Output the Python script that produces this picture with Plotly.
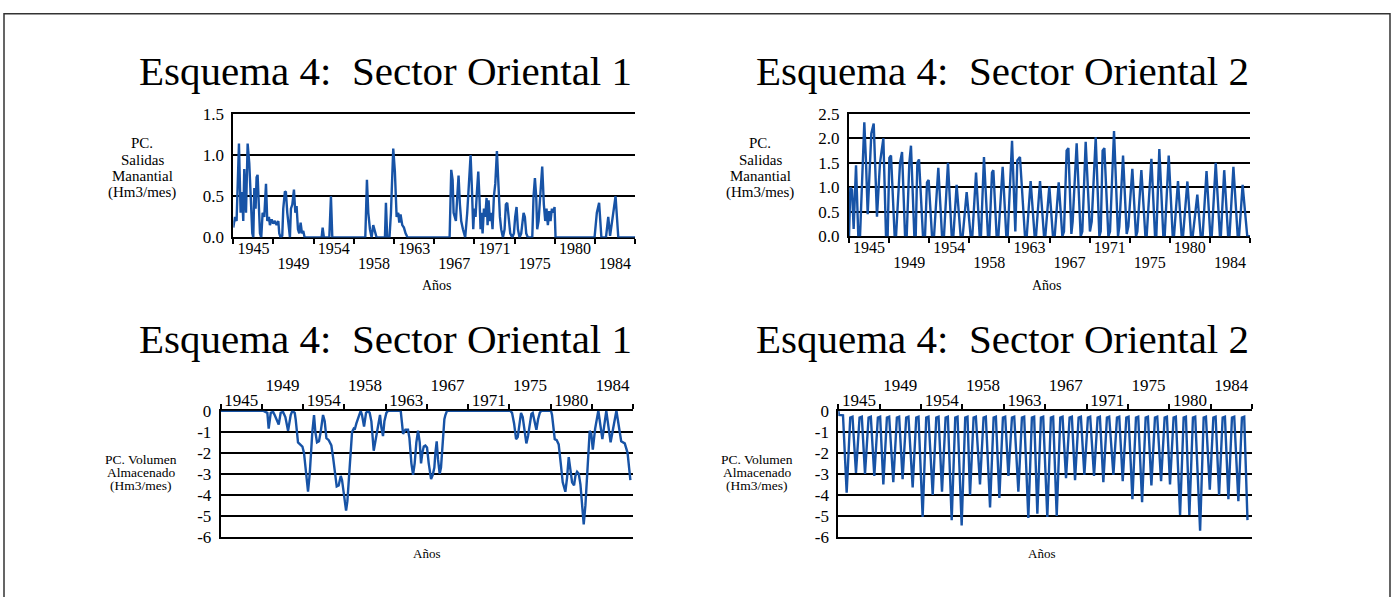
import plotly.graph_objects as go

# ---------------- data (decimal years) ----------------
tl_anio = [1944.75, 1944.93, 1945.11, 1945.37, 1945.55, 1945.70, 1945.84, 1945.95, 1946.14, 1946.32,
           1946.50, 1946.68, 1946.83, 1946.94, 1947.05, 1947.19, 1947.30, 1947.41, 1947.56, 1947.67,
           1947.81, 1947.96, 1948.14, 1948.33, 1948.47, 1948.65, 1948.76, 1948.95, 1949.13, 1949.31,
           1949.49, 1949.68, 1949.78, 1949.93, 1950.11, 1950.22, 1950.40, 1950.51, 1950.66, 1950.84,
           1950.95, 1951.06, 1951.21, 1951.39, 1951.54, 1951.68, 1951.83, 1951.97, 1952.12, 1952.27,
           1952.41, 1952.56, 1954.42, 1954.53, 1954.67, 1955.26, 1955.44, 1955.59, 1959.20, 1959.38,
           1959.53, 1959.71, 1959.89, 1960.07, 1960.18, 1960.33, 1960.44, 1961.35, 1961.46, 1961.60,
           1961.85, 1962.01, 1962.26, 1962.44, 1962.63, 1962.81, 1962.92, 1963.06, 1963.25, 1963.43,
           1963.61, 1963.83, 1968.43, 1968.61, 1968.76, 1968.87, 1968.97, 1969.12, 1969.27, 1969.41,
           1969.56, 1969.70, 1969.89, 1970.00, 1970.14, 1970.36, 1970.54, 1970.73, 1970.87, 1971.02,
           1971.13, 1971.27, 1971.42, 1971.57, 1971.71, 1971.82, 1971.93, 1972.04, 1972.19, 1972.33,
           1972.48, 1972.59, 1972.70, 1972.84, 1972.99, 1973.13, 1973.28, 1973.43, 1973.61, 1973.79,
           1973.94, 1974.08, 1974.27, 1974.45, 1974.59, 1974.74, 1974.89, 1975.07, 1975.29, 1975.47,
           1975.61, 1975.76, 1975.91, 1976.09, 1976.27, 1976.53, 1976.67, 1976.82, 1977.00, 1977.48,
           1977.62, 1977.77, 1977.91, 1978.02, 1978.17, 1978.39, 1978.57, 1978.75, 1978.90, 1979.04,
           1979.19, 1979.34, 1979.48, 1979.63, 1979.77, 1979.92, 1980.03, 1984.30, 1984.55, 1984.80,
           1985.05, 1985.55, 1985.80, 1986.00, 1986.35, 1986.60, 1986.90, 1988.75]
tl_salidas = [0.12, 0.25, 0.20, 1.14, 0.30, 0.55, 0.20, 0.83, 0.30, 1.14,
              0.90, 0.30, 0.05, 0.00, 0.60, 0.35, 0.73, 0.76, 0.20, 0.05,
              0.00, 0.30, 0.25, 0.65, 0.20, 0.25, 0.15, 0.22, 0.17, 0.20,
              0.15, 0.20, 0.05, 0.00, 0.02, 0.35, 0.56, 0.55, 0.30, 0.05,
              0.00, 0.35, 0.40, 0.58, 0.30, 0.38, 0.10, 0.05, 0.18, 0.05,
              0.08, 0.00, 0.00, 0.12, 0.00, 0.00, 0.50, 0.00, 0.00, 0.70,
              0.30, 0.10, 0.00, 0.15, 0.10, 0.02, 0.00, 0.00, 0.42, 0.00,
              0.00, 0.30, 1.08, 0.80, 0.25, 0.30, 0.18, 0.28, 0.15, 0.12,
              0.05, 0.00, 0.00, 0.82, 0.70, 0.30, 0.25, 0.20, 0.50, 0.75,
              0.40, 0.20, 0.10, 0.05, 0.00, 0.30, 0.70, 1.00, 0.60, 0.10,
              0.35, 0.25, 0.55, 0.80, 0.45, 0.10, 0.30, 0.05, 0.35, 0.25,
              0.48, 0.15, 0.45, 0.20, 0.30, 0.10, 0.50, 0.65, 1.05, 0.60,
              0.25, 0.10, 0.00, 0.10, 0.40, 0.42, 0.20, 0.05, 0.00, 0.05,
              0.25, 0.37, 0.10, 0.00, 0.05, 0.30, 0.25, 0.05, 0.00, 0.00,
              0.50, 0.72, 0.50, 0.10, 0.20, 0.60, 0.86, 0.40, 0.20, 0.35,
              0.15, 0.32, 0.20, 0.35, 0.30, 0.37, 0.00, 0.00, 0.30, 0.42,
              0.00, 0.00, 0.25, 0.02, 0.27, 0.50, 0.00, 0.00]

tr_anio = [1944.75, 1944.90, 1945.08, 1945.26, 1945.52, 1945.77, 1945.96, 1946.43, 1946.62, 1946.80,
           1947.20, 1947.46, 1947.82, 1948.15, 1948.52, 1948.81, 1948.99, 1949.18, 1949.36, 1949.76,
           1949.91, 1950.35, 1950.57, 1950.90, 1951.08, 1951.37, 1951.55, 1951.92, 1952.07, 1952.25,
           1952.43, 1952.87, 1953.09, 1953.31, 1953.49, 1953.86, 1954.08, 1954.55, 1954.96, 1955.17,
           1955.61, 1956.02, 1956.20, 1956.56, 1957.00, 1957.22, 1957.66, 1958.10, 1958.28, 1958.69,
           1959.09, 1959.23, 1959.56, 1960.00, 1960.15, 1960.44, 1960.59, 1960.95, 1961.14, 1961.61,
           1962.01, 1962.16, 1962.64, 1963.00, 1963.22, 1963.51, 1964.06, 1964.25, 1964.68, 1965.12,
           1965.27, 1965.71, 1966.15, 1966.29, 1966.73, 1967.13, 1967.32, 1967.76, 1968.16, 1968.34,
           1968.63, 1968.82, 1969.15, 1969.29, 1969.73, 1970.17, 1970.35, 1970.72, 1971.19, 1971.38,
           1971.82, 1972.22, 1972.37, 1972.58, 1972.77, 1973.21, 1973.39, 1973.83, 1974.27, 1974.41,
           1974.82, 1975.22, 1975.40, 1975.84, 1976.24, 1976.39, 1976.83, 1977.27, 1977.41, 1977.93,
           1978.33, 1978.47, 1978.80, 1979.24, 1979.39, 1979.83, 1980.27, 1980.41, 1980.85, 1981.25,
           1981.40, 1981.88, 1982.28, 1982.46, 1982.97, 1983.34, 1983.55, 1983.98, 1984.40, 1984.55,
           1984.99, 1985.45, 1985.55, 1985.92, 1986.35, 1986.50, 1986.93, 1987.40, 1987.55, 1987.94,
           1988.45, 1988.75]
tr_salidas = [0.00, 1.00, 0.95, 0.15, 1.45, 0.00, 0.00, 2.33, 1.50, 0.45,
              2.10, 2.30, 0.40, 1.50, 2.00, 0.00, 0.00, 1.60, 1.65, 0.00,
              0.00, 1.50, 1.72, 0.00, 0.00, 1.50, 1.85, 0.00, 0.00, 1.50,
              1.57, 0.00, 0.00, 1.10, 1.15, 0.00, 0.00, 1.40, 0.00, 0.00,
              1.50, 0.00, 0.00, 1.05, 0.00, 0.00, 0.90, 0.00, 0.00, 1.30,
              0.00, 0.00, 1.62, 0.00, 0.00, 1.30, 1.35, 0.00, 0.00, 1.42,
              0.00, 0.00, 1.95, 0.10, 1.55, 1.62, 0.00, 0.00, 1.13, 0.00,
              0.00, 1.13, 0.00, 0.00, 1.02, 0.00, 0.00, 1.10, 0.00, 0.10,
              1.75, 1.80, 0.05, 0.30, 1.90, 0.00, 0.10, 1.93, 0.10, 0.30,
              2.02, 0.00, 0.10, 1.75, 1.80, 0.00, 0.10, 2.15, 0.00, 0.20,
              1.65, 0.05, 0.20, 1.38, 0.00, 0.10, 1.35, 0.00, 0.00, 1.58,
              0.00, 0.00, 1.78, 0.00, 0.00, 1.65, 0.00, 0.00, 1.13, 0.00,
              0.00, 1.12, 0.00, 0.00, 0.85, 0.00, 0.00, 1.33, 0.00, 0.00,
              1.50, 0.00, 0.00, 1.35, 0.00, 0.00, 1.42, 0.00, 0.00, 1.05,
              0.00, 0.00]

bl_anio = [1944.75, 1949.27, 1949.73, 1949.87, 1950.09, 1950.34, 1950.51, 1950.94, 1951.15, 1951.40,
           1951.65, 1951.94, 1952.22, 1952.40, 1952.65, 1952.75, 1953.00, 1953.29, 1953.47, 1953.64,
           1953.86, 1954.07, 1954.25, 1954.36, 1954.53, 1954.71, 1954.85, 1955.03, 1955.24, 1955.42,
           1955.67, 1955.85, 1956.03, 1956.28, 1956.56, 1956.74, 1956.99, 1957.13, 1957.34, 1957.56,
           1957.70, 1957.88, 1958.13, 1958.27, 1958.45, 1958.62, 1958.77, 1958.94, 1959.05, 1959.23,
           1959.48, 1959.69, 1959.83, 1960.05, 1960.26, 1960.47, 1960.65, 1960.83, 1961.08, 1961.36,
           1961.61, 1961.75, 1961.90, 1962.07, 1962.22, 1962.43, 1962.61, 1963.96, 1964.10, 1964.21,
           1964.46, 1964.74, 1964.89, 1965.10, 1965.28, 1965.45, 1965.63, 1965.81, 1965.99, 1966.13,
           1966.27, 1966.42, 1966.59, 1966.77, 1966.95, 1967.20, 1967.38, 1967.55, 1967.66, 1967.80,
           1967.94, 1968.12, 1968.26, 1968.41, 1968.51, 1968.62, 1968.73, 1968.90, 1975.66, 1975.84,
           1976.06, 1976.27, 1976.45, 1976.62, 1976.80, 1976.98, 1977.16, 1977.37, 1977.55, 1977.73,
           1977.91, 1978.05, 1978.23, 1978.44, 1978.62, 1978.80, 1978.97, 1980.00, 1980.11, 1980.29,
           1980.40, 1980.61, 1980.82, 1981.04, 1981.25, 1981.53, 1981.71, 1981.89, 1982.07, 1982.25,
           1982.46, 1982.60, 1982.78, 1982.96, 1983.14, 1983.31, 1983.49, 1983.67, 1983.85, 1984.02,
           1984.13, 1984.30, 1984.46, 1984.71, 1985.05, 1985.48, 1985.90, 1986.36, 1986.98, 1987.49,
           1987.87, 1988.17, 1988.47]
bl_volumen = [0.00, 0.00, -0.10, -0.85, -0.10, -0.05, -0.20, -0.65, -0.10, -0.05,
              -0.30, -0.95, -0.20, 0.00, -0.10, -0.40, -1.50, -1.65, -1.70, -2.00,
              -3.00, -3.85, -3.00, -2.00, -1.00, -0.20, -1.00, -1.50, -1.45, -1.00,
              -0.20, -0.50, -1.30, -1.40, -1.65, -2.20, -3.00, -3.60, -3.55, -3.10,
              -3.30, -4.00, -4.75, -4.30, -3.00, -2.00, -1.00, -0.85, -0.90, -0.60,
              -0.30, 0.00, -0.20, -0.75, -0.10, 0.00, -0.10, -0.50, -1.90, -1.20,
              -0.50, -0.20, -0.80, -1.20, -0.50, -0.10, 0.00, 0.00, -0.60, -1.10,
              -0.90, -0.90, -1.30, -2.50, -3.05, -2.50, -1.50, -0.95, -1.50, -2.50,
              -2.00, -1.70, -1.65, -1.75, -2.50, -3.25, -3.05, -2.70, -2.00, -1.45,
              -2.30, -3.00, -2.70, -1.70, -0.80, -0.40, -0.20, 0.00, 0.00, -0.10,
              -0.60, -1.35, -1.25, -0.70, -0.10, -0.30, -1.00, -1.55, -1.20, -0.60,
              -0.15, -0.10, -0.50, -0.90, -0.40, -0.10, 0.00, 0.00, -0.20, -0.80,
              -1.35, -1.40, -1.60, -2.50, -3.40, -3.85, -3.20, -2.20, -2.70, -3.40,
              -3.55, -3.10, -2.90, -3.00, -3.50, -4.50, -5.40, -4.50, -3.00, -1.50,
              -0.95, -1.10, -1.85, -0.85, 0.00, -1.35, 0.00, -1.50, 0.00, -1.45,
              -1.55, -2.00, -3.30]

br_anio = [1944.75, 1944.82, 1945.25,
           1945.64, 1946.02, 1946.26, 1946.63, 1947.01, 1947.25, 1947.59, 1947.97, 1948.21,
           1948.58, 1948.96, 1949.20, 1949.54, 1949.92, 1950.16, 1950.60, 1950.98, 1951.22,
           1951.59, 1951.97, 1952.21, 1952.66, 1953.04, 1953.28, 1953.72, 1954.10, 1954.34,
           1954.79, 1955.17, 1955.41, 1955.78, 1956.16, 1956.40, 1956.81, 1957.19, 1957.43,
           1957.87, 1958.25, 1958.49, 1958.76, 1959.14, 1959.38, 1959.82, 1960.20, 1960.44,
           1960.89, 1961.27, 1961.51, 1961.88, 1962.26, 1962.50, 1962.84, 1963.22, 1963.46,
           1963.90, 1964.28, 1964.52, 1964.96, 1965.34, 1965.58, 1965.92, 1966.30, 1966.54,
           1966.98, 1967.36, 1967.60, 1967.98, 1968.36, 1968.60, 1968.97, 1969.35, 1969.59,
           1969.93, 1970.31, 1970.55, 1970.92, 1971.30, 1971.54, 1971.95, 1972.33, 1972.57,
           1972.94, 1973.32, 1973.56, 1974.01, 1974.39, 1974.63, 1975.00, 1975.38, 1975.62,
           1976.03, 1976.41, 1976.65, 1977.06, 1977.44, 1977.68, 1978.05, 1978.43, 1978.67,
           1979.08, 1979.46, 1979.70, 1980.03, 1980.41, 1980.65, 1981.10, 1981.48, 1981.72,
           1982.09, 1982.47, 1982.71, 1983.23, 1983.61, 1983.85, 1984.26, 1984.64, 1984.88,
           1985.25, 1985.63, 1985.87, 1986.24, 1986.62, 1986.86, 1987.30, 1987.68, 1987.92,
           1988.27]
br_volumen = [0.00, -0.20, -0.22,
              -3.90, -0.32, -0.28, -2.95, -0.32, -0.28, -3.00, -0.32, -0.28,
              -3.10, -0.32, -0.28, -3.50, -0.32, -0.28, -3.40, -0.32, -0.28,
              -3.25, -0.32, -0.28, -3.65, -0.32, -0.28, -5.05, -0.32, -0.28,
              -4.00, -0.32, -0.28, -3.85, -0.32, -0.28, -5.20, -0.32, -0.28,
              -5.45, -0.32, -0.28, -4.00, -0.32, -0.28, -3.50, -0.32, -0.28,
              -4.60, -0.32, -0.28, -4.15, -0.32, -0.28, -3.10, -0.32, -0.28,
              -3.85, -0.32, -0.28, -5.10, -0.32, -0.28, -4.90, -0.32, -0.28,
              -5.05, -0.32, -0.28, -5.00, -0.32, -0.28, -3.20, -0.32, -0.28,
              -3.30, -0.32, -0.28, -3.05, -0.32, -0.28, -3.10, -0.32, -0.28,
              -3.40, -0.32, -0.28, -3.05, -0.32, -0.28, -3.35, -0.32, -0.28,
              -4.20, -0.32, -0.28, -4.35, -0.32, -0.28, -3.55, -0.32, -0.28,
              -3.35, -0.32, -0.28, -3.50, -0.32, -0.28, -4.95, -0.32, -0.28,
              -4.95, -0.32, -0.28, -5.70, -0.32, -0.28, -3.75, -0.32, -0.28,
              -4.00, -0.32, -0.28, -4.20, -0.32, -0.28, -4.30, -0.32, -0.28,
              -5.20]

labels_row1 = ["1945", "1954", "1963", "1971", "1980"]
labels_row2 = ["1949", "1958", "1967", "1975", "1984"]

titulo_1 = "Esquema 4:&nbsp; Sector Oriental 1"
titulo_2 = "Esquema 4:&nbsp; Sector Oriental 2"
ytit_sal = ["PC.", "Salidas", "Manantial", "(Hm3/mes)"]
ytit_vol = ["PC. Volumen", "Almacenado", "(Hm3/mes)"]
xtit = "Años"

# ---------------- layout helpers ----------------
W, H = 1395, 597
def fx(p):
    return p / W
def fy(p):
    return 1 - p / H

FONT = "Liberation Serif, Times New Roman, serif"
BLUE = "#1753A6"
x_start, x_end = 1944.75, 1988.75
n_int = 10
step = (x_end - x_start) / n_int
bounds = [x_start + i * step for i in range(n_int + 1)]
centers = [x_start + (i + 0.5) * step for i in range(n_int)]
row1_pos = centers[0::2]
row2_pos = centers[1::2]

panels = [
    dict(ax="", xdom=(233.3, 635.2), ydom=(108.3, 236.0), yr=[0, 1.5],
         yt=[0, 0.5, 1.0, 1.5], ytt=["0.0", "0.5", "1.0", "1.5"], side="bottom",
         x=tl_anio, y=tl_salidas, ov="5", fs=16, s1=-5, s2=15),
    dict(ax="2", xdom=(849.0, 1250.0), ydom=(108.3, 234.8), yr=[0, 2.5],
         yt=[0, 0.5, 1.0, 1.5, 2.0, 2.5], ytt=["0.0", "0.5", "1.0", "1.5", "2.0", "2.5"], side="bottom",
         x=tr_anio, y=tr_salidas, ov="6", fs=16, s1=-5, s2=15),
    dict(ax="3", xdom=(220.7, 633.0), ydom=(415.0, 545.3), yr=[-6, 0],
         yt=[0, -1, -2, -3, -4, -5, -6], ytt=["0", "-1", "-2", "-3", "-4", "-5", "-6"], side="top",
         x=bl_anio, y=bl_volumen, ov="7", fs=17, s1=-4, s2=15),
    dict(ax="4", xdom=(838.3, 1252.0), ydom=(415.0, 545.3), yr=[-6, 0],
         yt=[0, -1, -2, -3, -4, -5, -6], ytt=["0", "-1", "-2", "-3", "-4", "-5", "-6"], side="top",
         x=br_anio, y=br_volumen, ov="8", fs=17, s1=-4, s2=15),
]

fig = go.Figure()
layout = dict(width=W, height=H, margin=dict(l=0, r=0, t=0, b=0),
              paper_bgcolor="white", plot_bgcolor="white", showlegend=False,
              font=dict(family=FONT, color="black"))

for p in panels:
    xa = "x" + p["ax"]
    ya = "y" + p["ax"]
    fig.add_trace(go.Scatter(x=p["x"], y=p["y"], mode="lines", xaxis=xa, yaxis=ya,
                             line=dict(color=BLUE, width=2.4), hoverinfo="skip"))
    fig.add_trace(go.Scatter(x=[], y=[], mode="lines", xaxis="x" + p["ov"], yaxis=ya,
                             hoverinfo="skip"))
    layout["xaxis" + p["ax"]] = dict(
        domain=[fx(p["xdom"][0]), fx(p["xdom"][1])], anchor=ya, side=p["side"],
        range=[x_start, x_end], tickmode="array", tickvals=row1_pos, ticktext=labels_row1,
        ticks="", showgrid=False, zeroline=False, showline=True, linecolor="black",
        linewidth=2, mirror=True, layer="below traces",
        tickfont=dict(family=FONT, size=p["fs"], color="black"), ticklabelstandoff=p["s1"],
        minor=dict(tickmode="array", tickvals=bounds, ticks="outside", ticklen=5,
                   tickwidth=2, tickcolor="black", showgrid=False))
    layout["xaxis" + p["ov"]] = dict(
        overlaying=xa, anchor=ya, side=p["side"], range=[x_start, x_end],
        tickmode="array", tickvals=row2_pos, ticktext=labels_row2, ticks="",
        showgrid=False, zeroline=False, showline=False,
        tickfont=dict(family=FONT, size=p["fs"], color="black"), ticklabelstandoff=p["s2"])
    layout["yaxis" + p["ax"]] = dict(
        domain=[fy(p["ydom"][1]), fy(p["ydom"][0])], anchor=xa, range=p["yr"],
        tickmode="array", tickvals=p["yt"], ticktext=p["ytt"], ticks="",
        showgrid=True, gridcolor="black", gridwidth=2, zeroline=False,
        showline=True, linecolor="black", linewidth=2, layer="below traces",
        tickfont=dict(family=FONT, size=17, color="black"), ticklabelstandoff=4)

fig.update_layout(**layout)

annotations = []
def ann(text, x, y, size):
    annotations.append(dict(text=text, x=fx(x), y=fy(y), xref="paper", yref="paper",
                            showarrow=False, xanchor="center", yanchor="middle",
                            font=dict(family=FONT, size=size, color="black")))

ann(titulo_1, 385, 64, 41)
ann(titulo_2, 1002, 64, 41)
ann(titulo_1, 385, 341, 41)
ann(titulo_2, 1002, 341, 41)
for cx in (142, 760):
    for line, ly in zip(ytit_sal, (138.5, 155.5, 172.5, 189.5)):
        ann(line, cx, ly, 15)
for cx in (141, 757):
    for line, ly in zip(ytit_vol, (465.0, 478.5, 492.0)):
        ann(line, cx, ly, 13.5)
ann(xtit, 437, 286, 14)
ann(xtit, 1047, 286, 14)
ann(xtit, 426, 562, 13)
ann(xtit, 1041, 562, 13)

fig.update_layout(annotations=annotations)
fig.add_shape(type="rect", xref="paper", yref="paper", x0=fx(4), x1=fx(1390),
              y0=-0.05, y1=fy(5), line=dict(color="#333333", width=1.5),
              fillcolor="rgba(0,0,0,0)", layer="above")

page_fix = (
    "document.body.style.margin='0';document.body.style.padding='0';"
    "document.body.style.overflow='hidden';"
)

fig.write_html("out.html", post_script=page_fix, config={"displayModeBar": False})
